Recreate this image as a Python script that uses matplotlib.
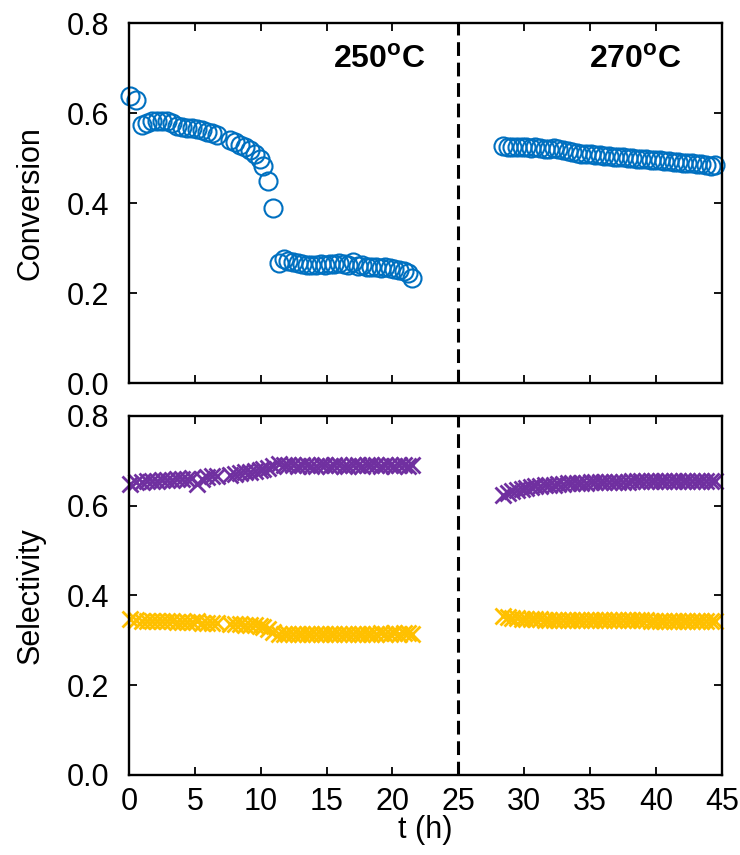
import numpy as np
import matplotlib
matplotlib.use("Agg")
from matplotlib import pyplot as plt

plt.rcParams['font.family'] = ['Liberation Sans', 'DejaVu Sans']
plt.rcParams['mathtext.fontset'] = 'custom'
plt.rcParams['mathtext.rm'] = 'Liberation Sans'
plt.rcParams['mathtext.bf'] = 'Liberation Sans:bold'

# 250 C segment
t_250 = [0.10, 0.55, 1.00, 1.38, 1.76, 2.14, 2.52, 2.90, 3.28, 3.66, 4.04, 4.42,
         4.80, 5.18, 5.56, 5.94, 6.32, 6.70,
         7.70, 8.08, 8.46, 8.84, 9.22, 9.60, 9.98, 10.20, 10.55, 10.95,
         11.40, 11.75, 12.10, 12.45, 12.80, 13.15, 13.50, 13.85, 14.20, 14.55,
         14.90, 15.25, 15.60, 15.95, 16.30, 16.65, 17.00, 17.35, 17.70, 18.05,
         18.40, 18.75, 19.10, 19.45, 19.80, 20.15, 20.50, 20.85, 21.20, 21.50]
conv_250 = [0.638, 0.630, 0.573, 0.578, 0.582, 0.583, 0.582, 0.582, 0.578, 0.572, 0.568, 0.567,
            0.567, 0.565, 0.562, 0.559, 0.556, 0.551,
            0.540, 0.535, 0.530, 0.524, 0.517, 0.508, 0.497, 0.482, 0.450, 0.390,
            0.267, 0.276, 0.272, 0.268, 0.266, 0.264, 0.263, 0.263, 0.263, 0.264,
            0.263, 0.264, 0.265, 0.266, 0.265, 0.262, 0.268, 0.260, 0.262, 0.259,
            0.257, 0.258, 0.256, 0.257, 0.256, 0.254, 0.252, 0.250, 0.245, 0.233]
sel1_250 = [0.648, 0.652, 0.653, 0.654, 0.655, 0.656, 0.657, 0.658, 0.658, 0.659, 0.660, 0.660,
            0.661, 0.648, 0.660, 0.663, 0.665, 0.666,
            0.668, 0.670, 0.672, 0.674, 0.676, 0.678, 0.680, 0.682, 0.684, 0.688,
            0.692, 0.691, 0.690, 0.690, 0.689, 0.690, 0.690, 0.689, 0.689, 0.690,
            0.690, 0.689, 0.690, 0.690, 0.689, 0.689, 0.690, 0.690, 0.689, 0.690,
            0.690, 0.690, 0.689, 0.690, 0.690, 0.689, 0.690, 0.690, 0.689, 0.690]
sel2_250 = [0.348, 0.345, 0.344, 0.343, 0.343, 0.342, 0.342, 0.342, 0.342, 0.341, 0.341, 0.341,
            0.341, 0.343, 0.339, 0.339, 0.339, 0.338,
            0.337, 0.336, 0.336, 0.335, 0.334, 0.333, 0.331, 0.329, 0.325, 0.318,
            0.314, 0.313, 0.314, 0.314, 0.315, 0.314, 0.314, 0.315, 0.314, 0.314,
            0.315, 0.314, 0.314, 0.315, 0.315, 0.314, 0.315, 0.315, 0.314, 0.315,
            0.315, 0.315, 0.316, 0.315, 0.315, 0.316, 0.315, 0.316, 0.316, 0.315]

# 270 C segment
t_270 = [28.40, 28.75, 29.10, 29.45, 29.80, 30.15, 30.50, 30.85, 31.20, 31.55,
         31.90, 32.25, 32.60, 32.95, 33.30, 33.65, 34.00, 34.35, 34.70, 35.05,
         35.40, 35.75, 36.10, 36.45, 36.80, 37.15, 37.50, 37.85, 38.20, 38.55,
         38.90, 39.25, 39.60, 39.95, 40.30, 40.65, 41.00, 41.35, 41.70, 42.05,
         42.40, 42.75, 43.10, 43.45, 43.80, 44.15, 44.50]
conv_270 = [0.526, 0.525, 0.525, 0.524, 0.524, 0.524, 0.523, 0.524, 0.523, 0.521,
            0.520, 0.522, 0.521, 0.518, 0.516, 0.513, 0.511, 0.510, 0.509, 0.508,
            0.507, 0.506, 0.505, 0.504, 0.503, 0.503, 0.502, 0.501, 0.500, 0.499,
            0.498, 0.497, 0.496, 0.496, 0.495, 0.494, 0.493, 0.492, 0.491, 0.490,
            0.489, 0.488, 0.487, 0.486, 0.484, 0.482, 0.484]
sel1_270 = [0.624, 0.628, 0.632, 0.635, 0.637, 0.639, 0.641, 0.643, 0.644, 0.645,
            0.646, 0.647, 0.648, 0.649, 0.650, 0.650, 0.651, 0.651, 0.651, 0.652,
            0.652, 0.652, 0.652, 0.653, 0.653, 0.653, 0.653, 0.653, 0.654, 0.654,
            0.654, 0.654, 0.654, 0.654, 0.655, 0.655, 0.655, 0.655, 0.655, 0.655,
            0.655, 0.656, 0.656, 0.656, 0.656, 0.656, 0.655]
sel2_270 = [0.355, 0.352, 0.350, 0.349, 0.348, 0.348, 0.347, 0.347, 0.347, 0.346,
            0.346, 0.346, 0.346, 0.346, 0.345, 0.345, 0.345, 0.345, 0.345, 0.345,
            0.345, 0.345, 0.345, 0.345, 0.345, 0.345, 0.345, 0.345, 0.345, 0.345,
            0.345, 0.345, 0.344, 0.344, 0.344, 0.344, 0.344, 0.344, 0.344, 0.344,
            0.344, 0.344, 0.344, 0.344, 0.344, 0.344, 0.344]

x_ticks = [0, 5, 10, 15, 20, 25, 30, 35, 40, 45]
y_ticks = [0.0, 0.2, 0.4, 0.6, 0.8]

blue = '#0070C0'
purple = '#7030A0'
yellow = '#FFC000'

fig = plt.figure(figsize=(7.4, 8.55), dpi=100)
ax1 = fig.add_axes([0.1743, 0.552, 0.801, 0.421])
ax2 = fig.add_axes([0.1743, 0.0936, 0.801, 0.420])

for ax in (ax1, ax2):
    ax.set_xlim(0, 45)
    ax.set_ylim(0, 0.8)
    ax.set_xticks(x_ticks)
    ax.set_yticks(y_ticks)
    ax.yaxis.set_major_formatter(matplotlib.ticker.FormatStrFormatter('%.1f'))
    ax.tick_params(direction='in', top=True, right=True, length=6, width=1.3,
                   labelsize=22, pad=9)
    ax.tick_params(axis='y', pad=14)
    for s in ax.spines.values():
        s.set_linewidth(1.7)
    ax.axvline(25, color='black', lw=2.2, ls=(0, (4.5, 2.2)))
    ax.yaxis.set_label_coords(-0.14, 0.5)

ax1.plot(t_250, conv_250, 'o', mfc='none', mec=blue, ms=13, mew=1.5, clip_on=False)
ax1.plot(t_270, conv_270, 'o', mfc='none', mec=blue, ms=13, mew=1.5, clip_on=False)
ax1.set_xticklabels([])
ax1.set_ylabel('Conversion', fontsize=22)
ax1.text(19.0, 0.718, r'250$^{\mathbf{o}}$C', fontsize=23, fontweight='bold',
         ha='center', va='center')
ax1.text(38.4, 0.718, r'270$^{\mathbf{o}}$C', fontsize=23, fontweight='bold',
         ha='center', va='center')

for t, s1, s2 in ((t_250, sel1_250, sel2_250), (t_270, sel1_270, sel2_270)):
    ax2.plot(t, s1, 'x', color=purple, ms=12, mew=2, clip_on=False)
    ax2.plot(t, s2, 'x', color=yellow, ms=12, mew=2, clip_on=False)
ax2.set_ylabel('Selectivity', fontsize=22)
ax2.set_xlabel('t (h)', fontsize=22, labelpad=-2)

fig.savefig('out.png', dpi=100)
